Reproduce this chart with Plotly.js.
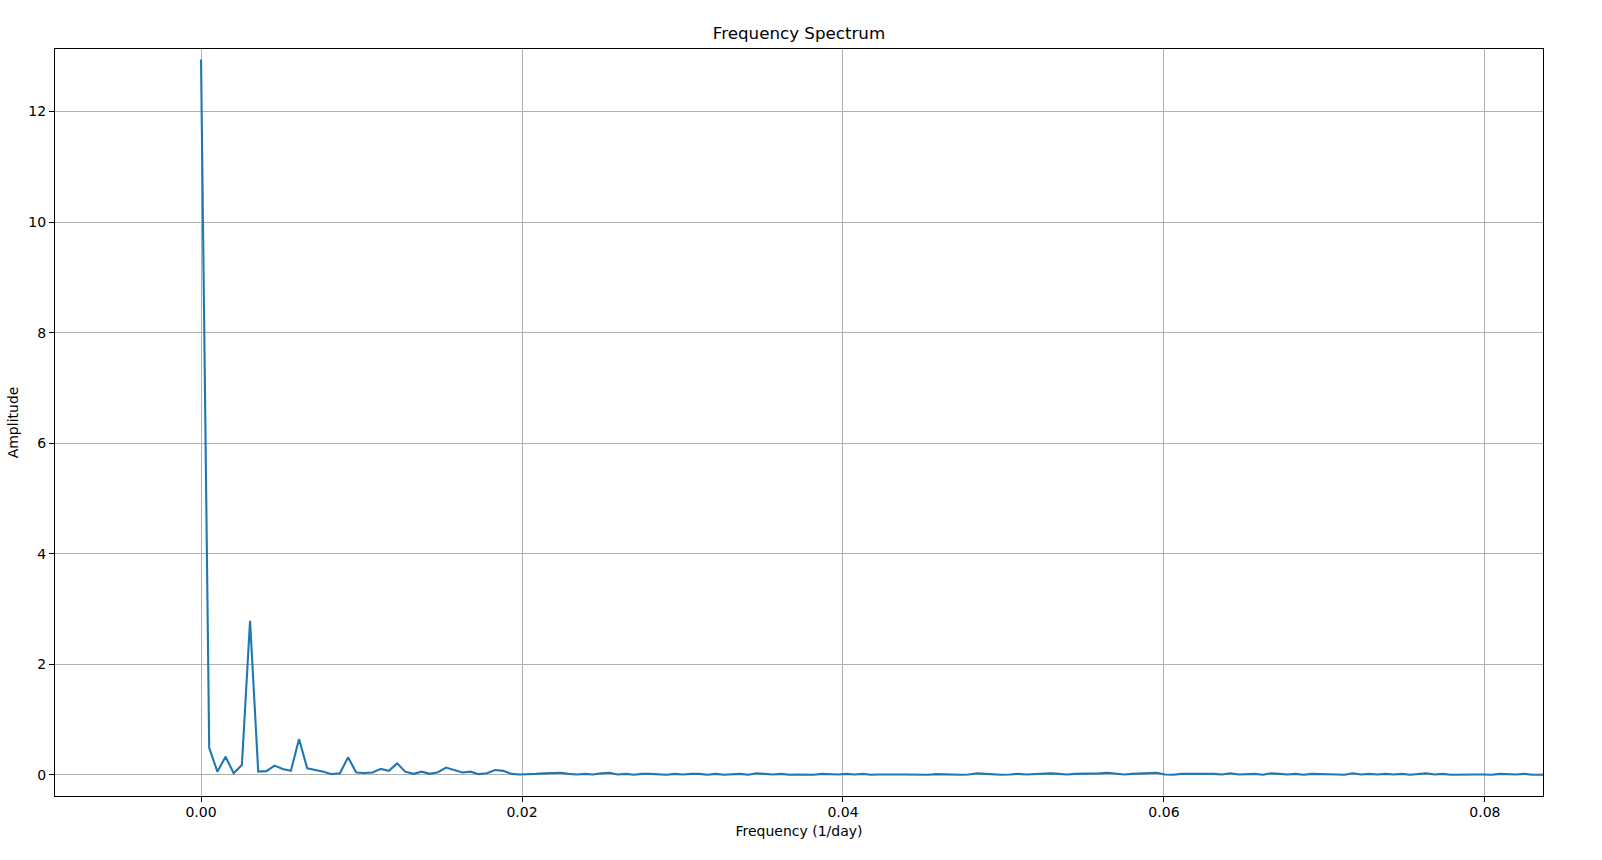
<!DOCTYPE html>
<html>
<head>
<meta charset="utf-8">
<script src="https://cdn.plot.ly/plotly-3.0.1.min.js"></script>
<style>
  html, body { margin: 0; padding: 0; background: #ffffff; }
  #chart { width: 1602px; height: 860px; }
</style>
</head>
<body>
<div id="chart"></div>
<script>
// Frequency resolution of the spectrum (1/day per bin)
const freqStep = 0.000509;

// Amplitude per frequency bin
const amplitude = [
  12.94, 0.49, 0.06, 0.33, 0.03, 0.18, 2.79, 0.06, 0.07, 0.17,
  0.11, 0.075, 0.65, 0.12, 0.09, 0.06, 0.015, 0.03, 0.32, 0.045,
  0.035, 0.045, 0.11, 0.075, 0.21, 0.06, 0.02, 0.06, 0.02, 0.05,
  0.135, 0.09, 0.045, 0.06, 0.015, 0.03, 0.09, 0.075, 0.02, 0.01,
  0.01, 0.02, 0.03, 0.04, 0.04, 0.02, 0.01, 0.02, 0.01, 0.03,
  0.04, 0.01, 0.02, 0.005, 0.02, 0.02, 0.01, 0.005, 0.02, 0.01,
  0.02, 0.02, 0.005, 0.02, 0.005, 0.01, 0.02, 0.005, 0.03, 0.02,
  0.01, 0.02, 0.005, 0.01, 0.01, 0.005, 0.02, 0.01, 0.01, 0.02,
  0.01, 0.02, 0.005, 0.01, 0.005, 0.01, 0.01, 0.005, 0.01, 0.005,
  0.015, 0.01, 0.01, 0.005, 0.01, 0.03, 0.02, 0.01, 0.005, 0.01,
  0.02, 0.01, 0.02, 0.03, 0.03, 0.02, 0.01, 0.02, 0.02, 0.02,
  0.03, 0.04, 0.02, 0.01, 0.02, 0.03, 0.03, 0.04, 0.01, 0.005,
  0.02, 0.02, 0.03, 0.02, 0.02, 0.01, 0.03, 0.01, 0.02, 0.02,
  0.005, 0.03, 0.02, 0.01, 0.02, 0.005, 0.02, 0.02, 0.01, 0.01,
  0.005, 0.03, 0.01, 0.02, 0.01, 0.02, 0.01, 0.02, 0.005, 0.02,
  0.03, 0.01, 0.02, 0.005, 0.01, 0.005, 0.01, 0.01, 0.005, 0.02,
  0.01, 0.01, 0.02, 0.005, 0.005, 0.01, 0.01
];

// Frequency bins (evenly spaced FFT grid)
const frequency = amplitude.map((_, i) => i * freqStep);

// Tick values and labels
const xTickValues = [0, 0.02, 0.04, 0.06, 0.08];
const xTickLabels = ["0.00", "0.02", "0.04", "0.06", "0.08"];
const yTickValues = [0, 2, 4, 6, 8, 10, 12];
const yTickLabels = ["0", "2", "4", "6", "8", "10", "12"];

const FONT = "DejaVu Sans, sans-serif";

const trace = {
  type: "scatter",
  mode: "lines",
  x: frequency,
  y: amplitude,
  line: { color: "#1f77b4", width: 2.1 },
  hoverinfo: "x+y"
};

const axisCommon = {
  showgrid: true,
  gridcolor: "#b0b0b0",
  gridwidth: 1.1,
  zeroline: false,
  showline: true,
  linecolor: "#000000",
  linewidth: 1.1,
  mirror: true,
  ticks: "outside",
  ticklen: 5,
  tickwidth: 1.1,
  tickcolor: "#000000",
  tickfont: { family: FONT, size: 14, color: "#000000" },
  tickmode: "array"
};

const layout = {
  width: 1602,
  height: 860,
  paper_bgcolor: "#ffffff",
  plot_bgcolor: "#ffffff",
  showlegend: false,
  margin: { l: 55, r: 59, t: 49, b: 64, pad: 0 },
  title: {
    text: "Frequency Spectrum",
    font: { family: FONT, size: 16.7, color: "#000000" },
    x: 0.5 - (59 - 55) / 2 / 1602,
    xanchor: "center",
    y: 1 - 33.5 / 860,
    yanchor: "middle",
    yref: "container"
  },
  xaxis: Object.assign({}, axisCommon, {
    range: [-0.0091, 0.08362],
    tickvals: xTickValues,
    ticktext: xTickLabels,
    ticklabelstandoff: -2,
    automargin: false,
    title: {
      text: "Frequency (1/day)",
      font: { family: FONT, size: 14, color: "#000000" },
      standoff: 7
    }
  }),
  yaxis: Object.assign({}, axisCommon, {
    range: [-0.38, 13.13],
    tickvals: yTickValues,
    ticktext: yTickLabels,
    automargin: false,
    title: {
      text: "Amplitude",
      font: { family: FONT, size: 14, color: "#000000" },
      standoff: 6
    }
  })
};

Plotly.newPlot("chart", [trace], layout, { displayModeBar: false, staticPlot: false });
</script>
</body>
</html>
